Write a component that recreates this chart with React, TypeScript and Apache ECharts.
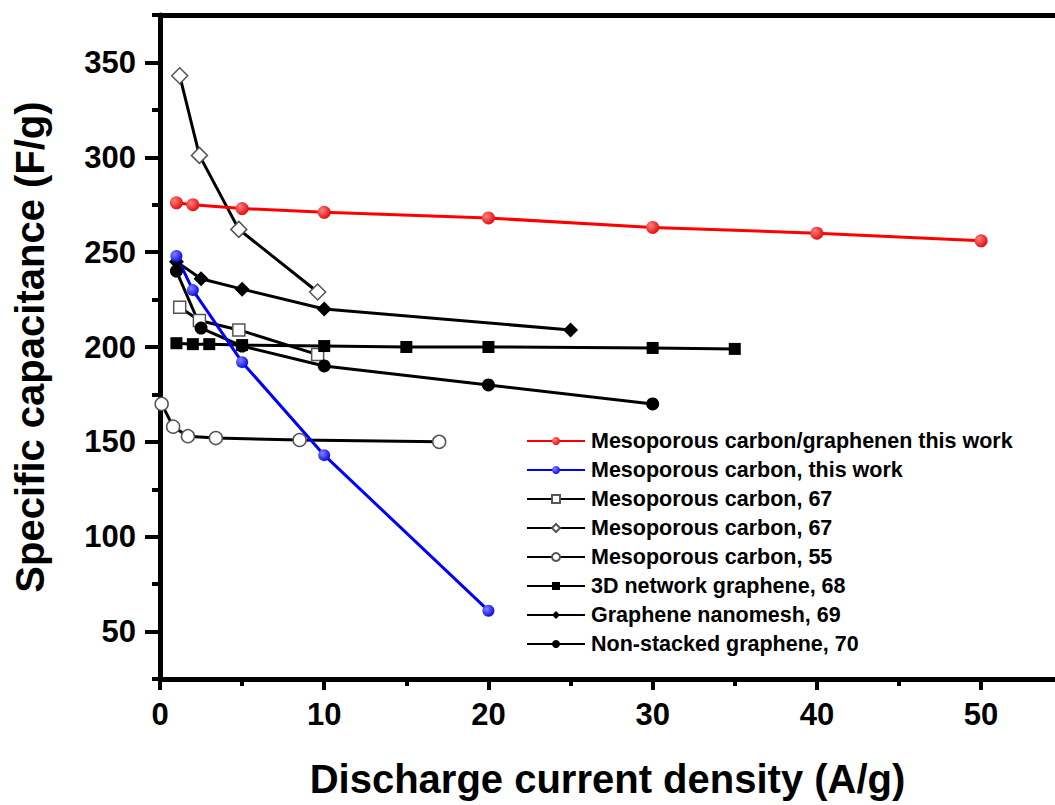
import React, { useEffect, useRef } from "react";
import * as echarts from "echarts";

const seriesNames = [
  "Mesoporous carbon/graphenen this work",
  "Mesoporous carbon, this work",
  "Mesoporous carbon, 67",
  "Mesoporous carbon, 67 ",
  "Mesoporous carbon, 55",
  "3D network graphene, 68",
  "Graphene nanomesh, 69",
  "Non-stacked graphene, 70",
];

const xRed = [1, 2, 5, 10, 20, 30, 40, 50];
const yRed = [276, 275, 273, 271, 268, 263, 260, 256];
const xBlue = [1, 2, 5, 10, 20];
const yBlue = [248, 230, 192, 143, 61];
const xSqOpen = [1.2, 2.4, 4.8, 9.6];
const ySqOpen = [221, 214, 209, 196];
const xDiaOpen = [1.2, 2.4, 4.8, 9.6];
const yDiaOpen = [343, 301, 262, 229];
const xCircOpen = [0.1, 0.8, 1.7, 3.4, 8.5, 17];
const yCircOpen = [170, 158, 153, 152, 151, 150];
const xSqFill = [1, 2, 3, 5, 10, 15, 20, 30, 35];
const ySqFill = [202, 201.5, 201.5, 201, 200.5, 200, 200, 199.5, 199];
const xDiaFill = [1, 2.5, 5, 10, 25];
const yDiaFill = [245, 236, 230.5, 220, 209];
const xCircFill = [1, 2.5, 5, 10, 20, 30];
const yCircFill = [240, 210, 200.5, 190, 180, 170];

const yMajor = [50, 100, 150, 200, 250, 300, 350];
const yMinor = [25, 75, 125, 175, 225, 275, 325, 375];
const xMajor = [0, 10, 20, 30, 40, 50];
const xMinor = [5, 15, 25, 35, 45];

const FONT = "'Liberation Sans', Arial, sans-serif";

const zip = (xs: number[], ys: number[]) => xs.map((x, i) => [x, ys[i]]);

const sphere = (light: string, dark: string) => ({
  type: "radial",
  x: 0.35,
  y: 0.35,
  r: 0.75,
  colorStops: [
    { offset: 0, color: light },
    { offset: 1, color: dark },
  ],
});

export default function App() {
  const ref = useRef<HTMLDivElement>(null);
  useEffect(() => {
    if (!ref.current) return;
    const chart = echarts.init(ref.current, undefined, { renderer: "svg" });
    const blackLine = { color: "#000", width: 3 };
    const openItem = { color: "#fff", borderColor: "#555", borderWidth: 1.5 };
    const fillItem = { color: "#000" };
    const mk = (
      name: string,
      data: number[][],
      symbol: string,
      size: number,
      lineStyle: any,
      itemStyle: any
    ) => ({
      name,
      type: "line",
      data,
      symbol,
      symbolSize: size,
      showSymbol: true,
      lineStyle,
      itemStyle,
      emphasis: { disabled: true },
    });
    const mkLine = () => ({ show: true, onZero: false, lineStyle: { color: "#000", width: 5 } });
    chart.setOption({
      animation: false,
      backgroundColor: "#fff",
      grid: { left: 160, right: 0, top: 15, bottom: 126 },
      legend: {
        orient: "vertical",
        left: 521,
        top: 425,
        itemWidth: 58,
        itemHeight: 10,
        itemGap: 7,
        textStyle: {
          fontFamily: FONT,
          fontWeight: "bold",
          fontSize: 21.5,
          color: "#000",
          lineHeight: 22,
          padding: [0, 0, 0, 1],
        },
        data: seriesNames,
      },
      xAxis: [
        {
          type: "value",
          min: 0,
          max: 54.5,
          position: "bottom",
          name: "Discharge current density (A/g)",
          nameLocation: "middle",
          nameGap: 80,
          nameTextStyle: { fontFamily: FONT, fontWeight: "bold", fontSize: 40, color: "#000" },
          axisLine: mkLine(),
          axisTick: { show: true, customValues: xMajor, length: 11, lineStyle: { color: "#000", width: 4 } },
          axisLabel: {
            customValues: xMajor,
            margin: 20,
            fontFamily: FONT,
            fontWeight: "bold",
            fontSize: 31,
            color: "#000",
          },
          splitLine: { show: false },
        },
        {
          type: "value",
          min: 0,
          max: 54.5,
          position: "bottom",
          axisLine: { show: false },
          axisTick: { show: true, customValues: xMinor, length: 7, lineStyle: { color: "#000", width: 4 } },
          axisLabel: { show: false },
          splitLine: { show: false },
        },
        {
          type: "value",
          min: 0,
          max: 54.5,
          position: "top",
          axisLine: mkLine(),
          axisTick: { show: false },
          axisLabel: { show: false },
          splitLine: { show: false },
        },
      ],
      yAxis: [
        {
          type: "value",
          min: 25,
          max: 375,
          position: "left",
          name: "Specific capacitance (F/g)",
          nameLocation: "middle",
          nameGap: 110,
          nameTextStyle: { fontFamily: FONT, fontWeight: "bold", fontSize: 40, color: "#000" },
          axisLine: mkLine(),
          axisTick: { show: true, customValues: yMajor, length: 15, lineStyle: { color: "#000", width: 4 } },
          axisLabel: {
            customValues: yMajor,
            margin: 24,
            fontFamily: FONT,
            fontWeight: "bold",
            fontSize: 31,
            color: "#000",
          },
          splitLine: { show: false },
        },
        {
          type: "value",
          min: 25,
          max: 375,
          position: "left",
          axisLine: { show: false },
          axisTick: { show: true, customValues: yMinor, length: 8, lineStyle: { color: "#000", width: 4 } },
          axisLabel: { show: false },
          splitLine: { show: false },
        },
      ],
      series: [
        mk(seriesNames[2], zip(xSqOpen, ySqOpen), "rect", 12, blackLine, openItem),
        mk(seriesNames[3], zip(xDiaOpen, yDiaOpen), "diamond", 16, blackLine, openItem),
        mk(seriesNames[4], zip(xCircOpen, yCircOpen), "circle", 13, blackLine, openItem),
        mk(seriesNames[5], zip(xSqFill, ySqFill), "rect", 12, blackLine, fillItem),
        mk(seriesNames[6], zip(xDiaFill, yDiaFill), "diamond", 15, blackLine, fillItem),
        mk(seriesNames[7], zip(xCircFill, yCircFill), "circle", 13, blackLine, fillItem),
        mk(seriesNames[1], zip(xBlue, yBlue), "circle", 12, { color: "#0000ff", width: 3 }, { color: sphere("#8080ff", "#0000e0") }),
        mk(seriesNames[0], zip(xRed, yRed), "circle", 13, { color: "#ff0000", width: 3 }, { color: sphere("#ff8080", "#e00000") }),
      ],
    });
    return () => chart.dispose();
  }, []);
  return (
    <div
      ref={ref}
      style={{ position: "absolute", left: 0, top: 0, width: 1055, height: 805 }}
    />
  );
}
